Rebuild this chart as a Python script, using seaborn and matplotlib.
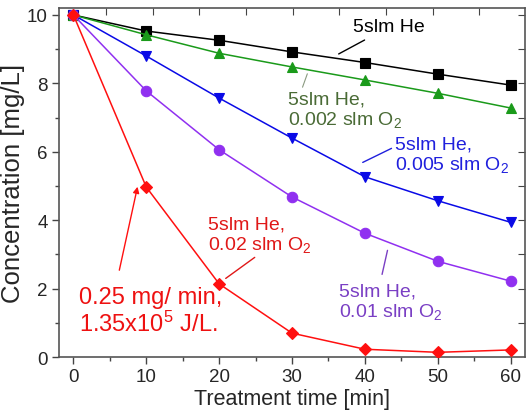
import numpy as np
import pandas as pd
import matplotlib
matplotlib.use("Agg")
import matplotlib.pyplot as plt
import seaborn as sns

# --- data ---
tempo = [0, 10, 20, 30, 40, 50, 60]
he_puro = [10.0, 9.53, 9.26, 8.92, 8.61, 8.27, 7.95]
o2_0002 = [10.0, 9.42, 8.88, 8.48, 8.10, 7.71, 7.28]
o2_0005 = [10.0, 8.80, 7.57, 6.40, 5.27, 4.57, 3.94]
o2_001 = [10.0, 7.78, 6.06, 4.68, 3.62, 2.80, 2.22]
o2_002 = [10.0, 4.97, 2.14, 0.70, 0.23, 0.14, 0.21]

series = ["he", "o2_0002", "o2_0005", "o2_001", "o2_002"]
valores = [he_puro, o2_0002, o2_0005, o2_001, o2_002]
cores = ["#000000", "#1a9a1a", "#0a0ae6", "#9030f0", "#ff1010"]
marcadores = ["s", "^", "v", "o", "D"]
tam_marc = [6.5, 7.5, 7.5, 7.5, 6.5]

sns.set_style("ticks")
plt.rcParams["font.family"] = ["Liberation Sans", "DejaVu Sans"]
plt.rcParams["mathtext.fontset"] = "custom"
plt.rcParams["mathtext.rm"] = "Liberation Sans"
plt.rcParams["mathtext.it"] = "Liberation Sans:italic"

df = pd.DataFrame({
    "tempo": tempo * len(series),
    "conc": np.concatenate(valores),
    "serie": np.repeat(series, len(tempo)),
})

fig = plt.figure(figsize=(5.3, 4.14), dpi=100)
ax = fig.add_axes([0.111, 0.135, 0.880, 0.843])

for s, c, m, ms in zip(series, cores, marcadores, tam_marc):
    sns.lineplot(data=df[df["serie"] == s], x="tempo", y="conc", color=c,
                 marker=m, markersize=ms, markeredgecolor=c, markeredgewidth=0.8,
                 linewidth=1.1, ax=ax, legend=False, zorder=3)

ax.set_xlim(-2, 62)
ax.set_ylim(0, 10.2)
ax.set_xticks(range(0, 61, 10))
ax.set_xticks(range(5, 61, 10), minor=True)
ax.set_yticks(range(0, 11, 2))
ax.set_yticks(range(1, 11, 2), minor=True)
ax.tick_params(axis="both", which="major", direction="out", length=5, width=1,
               labelsize=13.5, color="#444444", pad=3)
ax.tick_params(axis="both", which="minor", direction="out", length=3, width=1,
               color="#444444")
for sp in ax.spines.values():
    sp.set_color("#555555")
    sp.set_linewidth(1.2)

# inward ticks on top and right frame
topo = ax.secondary_xaxis("top")
topo.set_xticks(np.arange(4.5, 62, 6.4))
topo.tick_params(direction="in", length=5, labeltop=False, color="#444444")
topo.spines["top"].set_visible(False)
direita = ax.secondary_yaxis("right")
direita.set_yticks(range(1, 11))
direita.tick_params(direction="in", length=5, labelright=False, color="#444444")
direita.spines["right"].set_visible(False)

ax.set_xlabel("Treatment time [min]", fontsize=15.5, labelpad=2)
ax.set_ylabel("Concentration [mg/L]", fontsize=18.5, labelpad=1)

# --- annotations with leader lines ---
fs = 14
linha = dict(arrowstyle="-", lw=1.0)
ax.annotate("5slm He", xy=(36.4, 8.86), xytext=(43.3, 9.65), fontsize=fs,
            color="black", ha="center", va="center",
            arrowprops=dict(linha, color="black", shrinkA=2, shrinkB=0))
ax.annotate("5slm He,\n0.002 slm O$_\\mathregular{2}$", xy=(32.1, 8.28),
            xytext=(29.4, 7.23), fontsize=fs, color="#4a6b36", ha="left",
            va="center", linespacing=1.1,
            arrowprops=dict(linha, color="#8a9a80", lw=0.8, shrinkA=0, shrinkB=0,
                            relpos=(0.12, 1.0)))
ax.annotate("5slm He,\n0.005 slm O$_\\mathregular{2}$", xy=(39.7, 5.69),
            xytext=(44.1, 5.9), fontsize=fs, color="#2020dd", ha="left",
            va="center", linespacing=1.1,
            arrowprops=dict(linha, color="#2020dd", shrinkA=0, shrinkB=0,
                            relpos=(0.0, 0.72)))
ax.annotate("5slm He,\n0.01 slm O$_\\mathregular{2}$", xy=(43.1, 3.12),
            xytext=(36.4, 1.63), fontsize=fs, color="#7a3fc4", ha="left",
            va="center", linespacing=1.1,
            arrowprops=dict(linha, color="#7a3fc4", shrinkA=0, shrinkB=0,
                            relpos=(0.42, 1.2)))
ax.annotate("5slm He,\n0.02 slm O$_\\mathregular{2}$", xy=(20.9, 2.30),
            xytext=(18.5, 3.59), fontsize=fs, color="#e01818", ha="left",
            va="center", linespacing=1.1,
            arrowprops=dict(linha, color="#e01818", shrinkA=0, shrinkB=0,
                            relpos=(0.45, -0.1)))

ax.text(0.7, 1.34, "0.25 mg/ min,\n1.35x10$^\\mathregular{5}$ J/L.",
        fontsize=17, color="#ee1111", ha="left", va="center",
        linespacing=1.15)
ax.annotate("", xy=(8.8, 4.98), xytext=(6.3, 2.54),
            arrowprops=dict(arrowstyle="-|>", color="#ff1010", lw=1.0,
                            mutation_scale=9, shrinkA=0, shrinkB=0))

fig.savefig("out.png", dpi=100)
